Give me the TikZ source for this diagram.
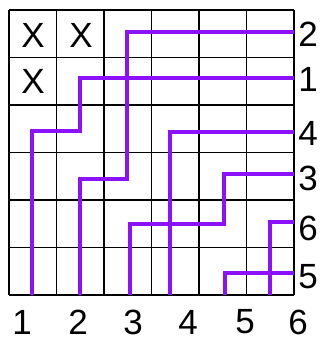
\documentclass[tikz,border=0pt]{standalone}
\usepackage{fontspec}
\setmainfont{Liberation Sans}
\definecolor{wire}{RGB}{140,18,255}
\begin{document}
\begin{tikzpicture}[x=1pt,y=-1pt,
  gridline/.style={black,line width=1.8pt},
  wirepath/.style={wire,line width=4.2pt,line join=miter},
  lbl/.style={inner sep=0pt,font=\fontsize{35}{35}\selectfont}]
\useasboundingbox (0,0) rectangle (322,337);
\fill[white] (0,0) rectangle (322,337);
% grid
\foreach \i in {0,...,6}{
  \draw[gridline] (9+47.5*\i,10) -- (9+47.5*\i,295);
  \draw[gridline] (9,10+47.5*\i) -- (294,10+47.5*\i);
}
% crosses
\node[lbl] (xa) at (33,35) {X};
\node[lbl] (xb) at (81,35) {X};
\node[lbl] (xc) at (33,81) {X};
% wire end coordinates
\coordinate (b1) at (32,295);
\coordinate (b2) at (80,295);
\coordinate (b3) at (130,295);
\coordinate (b4) at (170,295);
\coordinate (b5) at (225,295);
\coordinate (b6) at (270,295);
\coordinate (r2) at (294,32);
\coordinate (r1) at (294,78);
\coordinate (r4) at (294,132);
\coordinate (r3) at (294,174);
\coordinate (r6) at (294,222);
\coordinate (r5) at (294,273);
% wires
\draw[wirepath] (b1) |- (80,131) |- (r1);
\draw[wirepath] (b2) |- (127,179) |- (r2);
\draw[wirepath] (b3) |- (224,224) |- (r3);
\draw[wirepath] (b4) |- (r4);
\draw[wirepath] (b5) |- (r5);
\draw[wirepath] (b6) |- (r6);
% right labels
\node[lbl] (lr2) at (308,34.5) {2};
\node[lbl] (lr1) at (308,79) {1};
\node[lbl] (lr4) at (308,133) {4};
\node[lbl] (lr3) at (308,178) {3};
\node[lbl] (lr6) at (308,228) {6};
\node[lbl] (lr5) at (308,277) {5};
% bottom labels
\node[lbl] (lb1) at (22,322) {1};
\node[lbl] (lb2) at (78,322) {2};
\node[lbl] (lb3) at (133,322) {3};
\node[lbl] (lb4) at (188,322) {4};
\node[lbl] (lb5) at (245,322) {5};
\node[lbl] (lb6) at (298,322) {6};
\end{tikzpicture}
\end{document}
